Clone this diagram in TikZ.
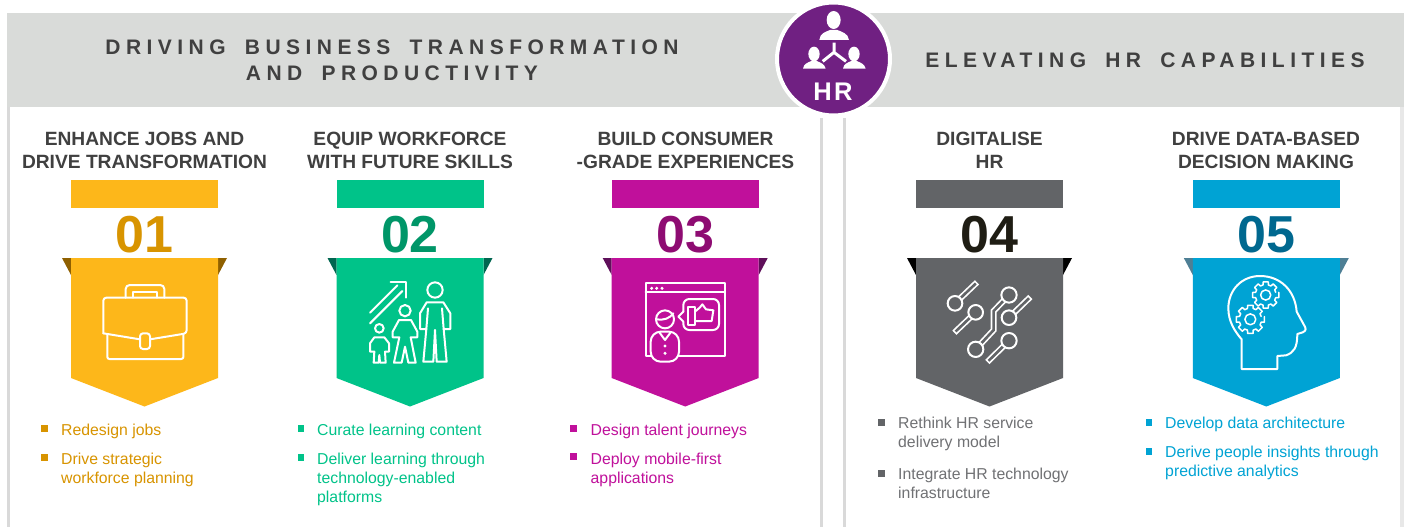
\documentclass[tikz,border=0pt]{standalone}
\usepackage{fontspec}
\setmainfont{Liberation Sans}
\newfontfamily\headspaced[LetterSpace=26,WordSpace=1.7]{Liberation Sans}
\definecolor{band}{HTML}{D9DBD9}
\definecolor{rulegray}{HTML}{D9D9D9}
\definecolor{rulelight}{HTML}{E8E8E8}
\definecolor{ink}{HTML}{404040}
\definecolor{hrpurple}{HTML}{702082}
\definecolor{cA}{HTML}{FDB71A}\definecolor{nA}{HTML}{D89400}\definecolor{dA}{HTML}{8F6000}
\definecolor{cB}{HTML}{00C389}\definecolor{nB}{HTML}{009668}\definecolor{dB}{HTML}{006650}
\definecolor{cC}{HTML}{C0109B}\definecolor{nC}{HTML}{8E0C72}\definecolor{dC}{HTML}{5F0F5A}
\definecolor{cD}{HTML}{626467}\definecolor{nD}{HTML}{1F1D14}\definecolor{dD}{HTML}{000000}
\definecolor{cE}{HTML}{00A3D4}\definecolor{nE}{HTML}{00688F}\definecolor{dE}{HTML}{4E7F95}
\definecolor{tD}{HTML}{707174}
% banner: centre x, colour, number colour, dark colour, number
\newcommand{\banner}[6]{%
  \fill[#4] (#1-82.5,258) -- (#1-73.5,258) -- (#1-73.5,275) -- cycle;
  \fill[#4] (#1+82.5,258) -- (#1+73.5,258) -- (#1+73.5,275) -- cycle;
  \node[barbox,fill=#2] (bar#6) at (#1,194) {};
  \node[numtext,text=#3] (num#6) at (#1,235) {#5};
  \fill[#2] (#1-73.5,258) -- (#1+73.5,258) -- (#1+73.5,378) -- (#1,406.5) -- (#1-73.5,378) -- cycle;
}
\newcommand{\sq}[3]{\fill[#3] (#1,#2) rectangle +(6.5,6.5);}
\newcommand{\gearicon}[3]{% cx,cy,r
  \draw[icon,line width=1.5pt,line join=round] (#1,#2) +(-11:#3)
    \foreach \a in {0,45,...,315} { -- +(\a-11:#3) -- +(\a+11:#3) -- +(\a+15:#3*.78) -- +(\a+30:#3*.78) };
  \draw[icon,line width=1.5pt] (#1,#2) circle[radius=#3*.38];
}
\newcommand{\pincircle}[3]{\filldraw[icon,fill=cD] (#1,#2) circle[radius=#3];}
\newcommand{\stem}[1]{%
  \draw[white,line width=6pt,line join=miter] #1;
  \draw[cD,line width=2.6pt,line join=miter,shorten >=1.7pt] #1;
}
\tikzset{
  barbox/.style={minimum width=147pt,minimum height=28pt,inner sep=0pt,outer sep=0pt},
  numtext/.style={inner sep=0pt,font=\fontsize{52}{52}\selectfont\bfseries},
  headtext/.style={inner sep=0pt,align=center,text=ink,font=\fontsize{19.2}{23}\selectfont\bfseries},
  bandtext/.style={inner sep=0pt,align=center,text=ink,font=\fontsize{21}{26}\selectfont\headspaced\bfseries},
  itemtext/.style={inner sep=0pt,anchor=north west,align=left,font=\fontsize{15.8}{19}\selectfont},
  icon/.style={draw=white,line width=2pt,line join=round,line cap=round},
  zoomed/.style={x=0.33333pt,y=-0.33333pt}
}
\begin{document}
\begin{tikzpicture}[x=1pt,y=-1pt]
\useasboundingbox (0,0) rectangle (1407,527);
\fill[white] (0,0) rectangle (1407,527);
% band and frames
\fill[band] (7,13) rectangle (1403.5,107);
\fill[rulegray] (7,107) rectangle (10,527);
\fill[rulelight] (1400,107) rectangle (1403.5,527);
\fill[rulegray] (819.5,118) rectangle (822.5,527);
\fill[rulegray] (842.5,118) rectangle (845.5,527);
% band titles
\node[bandtext] (titleL) at (392,60) {DRIVING BUSINESS TRANSFORMATION\\AND PRODUCTIVITY};
\node[bandtext] (titleR) at (1145,60) {ELEVATING HR CAPABILITIES};
% HR badge
\node[circle,fill=hrpurple,draw=white,line width=4pt,minimum size=113pt,inner sep=0pt] (hr) at (833.5,59) {};
\node[inner sep=0pt,text=white,font=\fontsize{25.5}{26}\selectfont\bfseries\addfontfeature{LetterSpace=9}] (hrtext) at (833,92) {HR};
\begin{scope}[shift={(700,0)},zoomed]
  \fill[white] (401,60) ellipse[x radius=21,y radius=27];
  \fill[white] (358,120) .. controls (360,100) and (375,96) .. (390,90) -- (412,90) .. controls (427,96) and (444,100) .. (447,120) -- cycle;
  \fill[white] (342,162) ellipse[x radius=17,y radius=22];
  \fill[white] (309,206) .. controls (311,192) and (322,188) .. (334,183) -- (350,183) .. controls (362,188) and (374,192) .. (377,206) -- cycle;
  \fill[white] (462,162) ellipse[x radius=17,y radius=22];
  \fill[white] (429,206) .. controls (431,192) and (442,188) .. (454,183) -- (470,183) .. controls (482,188) and (494,192) .. (497,206) -- cycle;
  \draw[white,line width=3pt] (402,128) -- (402,157) (368,184) -- (402,157) -- (438,184);
\end{scope}
% column headings
\node[headtext] (h1) at (144.5,150.5) {ENHANCE JOBS AND\\DRIVE TRANSFORMATION};
\node[headtext] (h2) at (410,150.5) {EQUIP WORKFORCE\\WITH FUTURE SKILLS};
\node[headtext] (h3) at (685.5,150.5) {BUILD CONSUMER\\-GRADE EXPERIENCES};
\node[headtext] (h4) at (989.5,150.5) {DIGITALISE\\HR};
\node[headtext] (h5) at (1266,150.5) {DRIVE DATA-BASED\\DECISION MAKING};
% banners
\banner{144.5}{cA}{nA}{dA}{01}{a}
\banner{410}{cB}{nB}{dB}{02}{b}
\banner{685.2}{cC}{nC}{dC}{03}{c}
\banner{989.5}{cD}{nD}{dD}{04}{d}
\banner{1266.3}{cE}{nE}{dE}{05}{e}
% briefcase
\begin{scope}[shift={(50,250)},zoomed]
  \draw[icon,rounded corners=3pt] (160,250) -- (160,143) -- (410,143) -- (410,250) -- (300,268);
  \draw[icon] (270,268) -- (160,250);
  \draw[icon,rounded corners=3pt] (270,250) rectangle (300,297);
  \draw[icon,rounded corners=2pt] (172,255) -- (172,327) -- (400,327) -- (400,255);
  \draw[icon,rounded corners=4pt] (227,143) -- (227,105) -- (343,105) -- (343,143);
  \draw[icon] (250,143) -- (250,125) -- (322,125) -- (322,143);
\end{scope}
% people
\begin{scope}[shift={(325,250)},zoomed]
  \draw[icon] (135,188) -- (217,106) (135,220) -- (232,123);
  \draw[icon] (197,97) -- (243,97) -- (243,143);
  \draw[icon] (330,120) circle[radius=23];
  \draw[icon] (305,157) -- (355,157) -- (376,190) -- (376,237) -- (356,237) -- (365,335) -- (335,335) -- (330,240) -- (325,335) -- (295,335) -- (304,237) -- (285,237) -- (285,190) -- cycle;
  \draw[icon] (309,175) -- (304,237) (351,175) -- (356,237);
  \draw[icon] (240,182) circle[radius=17];
  \draw[icon] (222,210) -- (258,210) -- (277,245) -- (277,262) -- (257,262) -- (272,338) -- (250,338) -- (240,290) -- (230,338) -- (207,338) -- (223,262) -- (203,262) -- (203,245) -- cycle;
  \draw[icon] (163,235) circle[radius=13];
  \draw[icon] (148,262) -- (178,262) -- (192,280) -- (192,305) -- (180,305) -- (182,338) -- (165,338) -- (163,315) -- (161,338) -- (146,338) -- (148,305) -- (135,305) -- (135,280) -- cycle;
\end{scope}
% window and thumbs-up
\begin{scope}[shift={(600,250)},zoomed]
  \draw[icon] (152,318) -- (137,318) -- (137,98) -- (375,98) -- (375,318) -- (237,318);
  \draw[icon] (137,125) -- (375,125);
  \foreach \dx in {155,170,186} \fill[white] (\dx,115) circle[radius=5];
  \draw[icon,rounded corners=6pt] (250,185) -- (250,147) -- (357,147) -- (357,240) -- (250,240) -- (250,215);
  \draw[icon] (250,185) -- (235,200) -- (250,215);
  \draw[icon] (265,172) rectangle (285,225);
  \draw[icon] (285,185) -- (300,172) -- (307,163) -- (318,178) -- (340,181) -- (335,213) -- (285,213);
  \draw[icon] (195,208) circle[radius=27];
  \draw[icon] (168,208) .. controls (190,212) and (210,205) .. (220,190);
  \draw[icon,rounded corners=10pt] (152,335) -- (152,245) -- (237,245) -- (237,335) -- cycle;
  \draw[icon] (178,247) -- (195,270) -- (212,247);
  \fill[white] (195,288) circle[radius=5] (195,310) circle[radius=5];
\end{scope}
% circuit
\begin{scope}[shift={(905,250)},zoomed]
  \stem{(150,160) -- (216,97)}
  \pincircle{150}{160}{22}
  \stem{(212,187) -- (148,248)}
  \pincircle{212}{187}{22}
  \stem{(312,203) -- (376,141)}
  \pincircle{312}{203}{22}
  \stem{(312,272) -- (247,336)}
  \pincircle{312}{272}{23}
  \stem{(312,135) -- (266,183) -- (266,240) -- (212,298)}
  \pincircle{312}{135}{23}
  \pincircle{212}{298}{23}
\end{scope}
% head with gears
\begin{scope}[shift={(1180,250)},zoomed]
  \draw[icon] (185,357) -- (292,357) -- (292,318) -- (318,316) .. controls (340,308) and (352,295) .. (352,252) -- (368,247) .. controls (380,242) and (378,235) .. (372,225) -- (350,185) .. controls (345,120) and (300,78) .. (240,78) .. controls (185,78) and (145,120) .. (145,175) .. controls (145,215) and (165,245) .. (185,268) -- cycle;
  \gearicon{257}{135}{40}
  \gearicon{211}{208}{43}
\end{scope}
% lists
\sq{41}{425}{nA}
\node[itemtext,text=nA] (a1) at (61,424) {Redesign jobs};
\sq{41}{454}{nA}
\node[itemtext,text=nA] (a2) at (61,453) {Drive strategic\\workforce planning};
\sq{297.5}{425}{cB}
\node[itemtext,text=cB] (b1) at (317,424) {Curate learning content};
\sq{297.5}{454}{cB}
\node[itemtext,text=cB] (b2) at (317,453) {Deliver learning through\\technology-enabled\\platforms};
\sq{570}{425}{cC}
\node[itemtext,text=cC] (c1) at (590.5,424) {Design talent journeys};
\sq{570}{453}{cC}
\node[itemtext,text=cC] (c2) at (590.5,453) {Deploy mobile-first\\applications};
\sq{878}{419}{cD}
\node[itemtext,text=tD] (d1) at (898,417) {Rethink HR service\\delivery model};
\sq{878}{470}{cD}
\node[itemtext,text=tD] (d2) at (898,468) {Integrate HR technology\\infrastructure};
\sq{1145.5}{419}{cE}
\node[itemtext,text=cE] (e1) at (1165,417) {Develop data architecture};
\sq{1145.5}{448}{cE}
\node[itemtext,text=cE] (e2) at (1165,446) {Derive people insights through\\predictive analytics};
\end{tikzpicture}
\end{document}
